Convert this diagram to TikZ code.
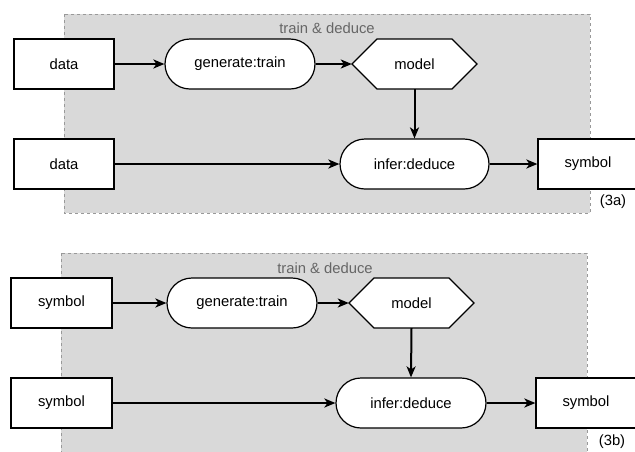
\documentclass[tikz,border=0pt]{standalone}
\usepackage{fontspec}
\setmainfont{Liberation Sans}
\usetikzlibrary{arrows.meta}
\definecolor{panelgray}{HTML}{D9D9D9}
\definecolor{panelline}{HTML}{999999}
\definecolor{labelgray}{HTML}{666666}
\tikzset{
  boxline/.style={draw=black, line width=1.2pt},
  txt/.style={font=\fontsize{14.8}{17}\selectfont, inner sep=0pt},
  databox/.style={txt, boxline, fill=white, minimum width=100pt, minimum height=50pt},
  procbox/.style={txt, boxline, fill=white, rounded corners=25pt, minimum width=150pt, minimum height=50pt},
  hexnode/.style={txt, minimum width=125pt, minimum height=50pt},
  panel/.style={fill=panelgray, draw=panelline, line width=1pt, dash pattern=on 3pt off 3pt},
  flow/.style={line width=2pt, -{Stealth[length=11pt, width=9pt, inset=3pt]}},
  hexa/.pic={\draw[boxline, fill=white] (-62.5,0) -- (-37.5,-25) -- (37.5,-25) -- (62.5,0) -- (37.5,25) -- (-37.5,25) -- cycle;}
}
\begin{document}
\begin{tikzpicture}[x=1pt, y=-1pt]
\useasboundingbox (0,0) rectangle (635,451);
\clip (0,0) rectangle (635,451);

% ---- (3a): learning from data ----
\draw[panel] (64,14) rectangle (590,213);
\node[txt, text=labelgray] (ta) at (327,28) {train \& deduce};
\node[databox] (da1) at (64,64) {data};
\node[procbox] (ga) at (240,64) {generate:train};
\pic at (414.5,64) {hexa};
\node[hexnode] (ma) at (414.5,64) {model};
\node[databox] (da2) at (64,164) {data};
\node[procbox, minimum width=149pt] (ia) at (414.5,164) {infer:deduce};
\node[databox] (sa) at (588,164) {symbol};
\node[txt] (capa) at (613,202) {(3a)};
\draw[flow] (da1) -- (ga);
\draw[flow] (ga) -- (ma.west);
\draw[flow] (ma.south) -- (ia.north);
\draw[flow] (da2) -- (ia);
\draw[flow] (ia) -- (sa);

% ---- (3b): learning from symbols ----
\draw[panel] (61,253) rectangle (587,470);
\node[txt, text=labelgray] (tb) at (325,268) {train \& deduce};
\node[databox, minimum width=101pt] (sb1) at (61.5,303) {symbol};
\node[procbox] (gb) at (242,303) {generate:train};
\pic at (411.5,303) {hexa};
\node[hexnode] (mb) at (411.5,303) {model};
\node[databox, minimum width=101pt] (sb2) at (61.5,403) {symbol};
\node[procbox] (ib) at (411,403) {infer:deduce};
\node[databox] (sbo) at (586,403) {symbol};
\node[txt] (capb) at (612,442) {(3b)};
\draw[flow] (sb1) -- (gb);
\draw[flow] (gb) -- (mb.west);
\draw[flow] (mb.south) -- (ib.north);
\draw[flow] (sb2) -- (ib);
\draw[flow] (ib) -- (sbo);
\end{tikzpicture}
\end{document}
